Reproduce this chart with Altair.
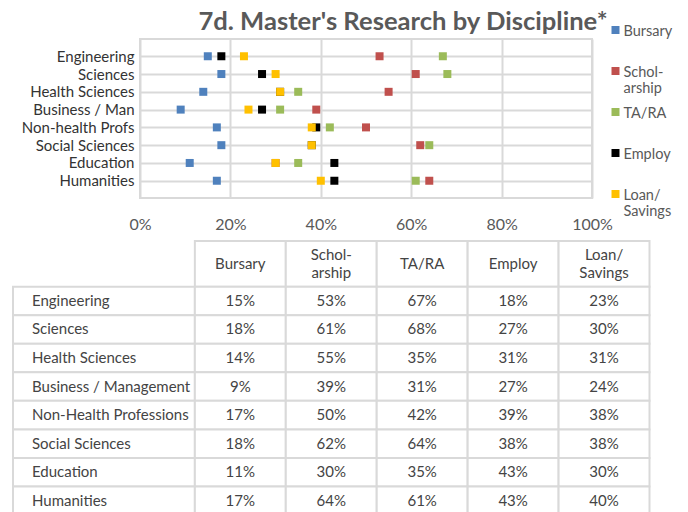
import altair as alt
import pandas as pd

# ---------------- data ----------------
disciplines = ["Engineering", "Sciences", "Health Sciences", "Business / Management",
               "Non-Health Professions", "Social Sciences", "Education", "Humanities"]
chart_labels = ["Engineering", "Sciences", "Health Sciences", "Business / Man",
                "Non-health Profs", "Social Sciences", "Education", "Humanities"]
series = ["Bursary", "Scholarship", "TA/RA", "Employ", "Loan/Savings"]
series_header = ["Bursary", "Schol-\narship", "TA/RA", "Employ", "Loan/\nSavings"]
colors = ["#4f81bd", "#c0504d", "#9bbb59", "#000000", "#ffc000"]

bursary = [15, 18, 14, 9, 17, 18, 11, 17]
scholarship = [53, 61, 55, 39, 50, 62, 30, 64]
ta_ra = [67, 68, 35, 31, 42, 64, 35, 61]
employ = [18, 27, 31, 27, 39, 38, 43, 43]
loan_savings = [23, 30, 31, 24, 38, 38, 30, 40]
x_ticks = [0, 20, 40, 60, 80, 100]

title_text = "7d. Master's Research by Discipline*"

values_by_series = [bursary, scholarship, ta_ra, employ, loan_savings]

# ---------------- scatter part ----------------
rows = []
k = 0
for s, vals in zip(series, values_by_series):
    for lab, v in zip(chart_labels, vals):
        rows.append({"series": s, "discipline": lab, "value": v / 100, "ord": k})
        k += 1
df = pd.DataFrame(rows)

FONT = "Lato"
GRID = "#d9d9d9"

expr_parts = []
for s, h in zip(series, series_header):
    if "\n" in h:
        parts = ",".join("'" + p + "'" for p in h.split("\n"))
        expr_parts.append(f"datum.label == '{s}' ? [{parts}] : ")
label_expr = "".join(expr_parts) + "datum.label"

# legend square drawn inside a larger symbol box so that it lines up with
# the first line of each label
legend_square = "M-0.091,0.136H0.636V0.864H-0.091Z"

scatter = alt.Chart(df).mark_square(size=64, opacity=1, strokeWidth=0).encode(
    x=alt.X("value:Q",
            scale=alt.Scale(domain=[0, 1], nice=False),
            axis=alt.Axis(values=[t / 100 for t in x_ticks], format=".0%", grid=True,
                          gridColor=GRID, gridWidth=2, domain=False, ticks=False,
                          labelFont=FONT, labelFontSize=16, labelColor="#595959",
                          labelPadding=18, labelFlush=False, title=None)),
    y=alt.Y("discipline:N", sort=chart_labels,
            scale=alt.Scale(type="point", padding=0.97),
            axis=alt.Axis(grid=True, gridColor=GRID, gridWidth=2, domain=False,
                          ticks=False, labelFont=FONT, labelFontSize=15,
                          labelColor="#333333", labelPadding=6, title=None)),
    color=alt.Color("series:N", sort=series,
                    scale=alt.Scale(domain=series, range=colors),
                    legend=alt.Legend(orient="none", legendX=461.5, legendY=-25.5,
                                      title=None, symbolType=legend_square,
                                      symbolSize=484, symbolStrokeWidth=0,
                                      labelFont=FONT, labelFontSize=14.5,
                                      labelColor="#595959", labelOffset=0,
                                      labelExpr=label_expr, gridAlign="all",
                                      rowPadding=0, labelBaseline="top",
                                      padding=0)),
    order=alt.Order("ord:Q"),
).properties(
    width=452, height=159,
    view=alt.ViewBackground(stroke=GRID, strokeWidth=2),
    title=alt.TitleParams(title_text, font=FONT, fontSize=25.6, fontWeight="bold",
                          color="#595959", anchor="middle", dx=37, offset=3),
)

# ---------------- table part ----------------
HDR = 1.6            # header height, in row units
LINE = 18 / 28.5     # header line spacing, in row units
n_rows = len(disciplines)
cells = []
for j, h in enumerate(series_header):
    n_lines = h.count("\n") + 1
    cells.append({"x0": 2 + j, "x1": 3 + j, "y0": 0, "y1": HDR,
                  "xc": 2.5 + j, "yc": HDR / 2 - (n_lines - 1) * LINE / 2,
                  "text": h, "kind": "center"})
for i, d in enumerate(disciplines):
    y0 = HDR + i
    cells.append({"x0": 0, "x1": 2, "y0": y0, "y1": y0 + 1,
                  "xc": 0, "yc": y0 + 0.5, "text": d, "kind": "left"})
    for j, vals in enumerate(values_by_series):
        cells.append({"x0": 2 + j, "x1": 3 + j, "y0": y0, "y1": y0 + 1,
                      "xc": 2.5 + j, "yc": y0 + 0.5, "text": f"{vals[i]}%",
                      "kind": "center"})
cdf = pd.DataFrame(cells)

xs = alt.Scale(domain=[0, 7], range=[-127, 509.5], nice=False, zero=False)
ys = alt.Scale(domain=[0, HDR + n_rows], reverse=True, nice=False, zero=False)

base = alt.Chart(cdf)
rects = base.mark_rect(fill="white", stroke=GRID, strokeWidth=2).encode(
    x=alt.X("x0:Q", scale=xs, axis=None), x2="x1:Q",
    y=alt.Y("y0:Q", scale=ys, axis=None), y2="y1:Q",
)
center_text = base.transform_filter(alt.datum.kind == "center").mark_text(
    font=FONT, fontSize=15, color="#444444", lineBreak="\n", lineHeight=18,
    baseline="middle", align="center",
).encode(x=alt.X("xc:Q", scale=xs, axis=None), y=alt.Y("yc:Q", scale=ys, axis=None),
         text="text:N")
left_text = base.transform_filter(alt.datum.kind == "left").mark_text(
    font=FONT, fontSize=15, color="#444444", baseline="middle", align="left", dx=19,
).encode(x=alt.X("xc:Q", scale=xs, axis=None), y=alt.Y("yc:Q", scale=ys, axis=None),
         text="text:N")

table = alt.layer(rects, center_text, left_text).properties(
    width=510, height=274,
    view=alt.ViewBackground(stroke="transparent"),
)

chart = alt.vconcat(scatter, table, spacing=6).configure(
    padding={"left": 3, "top": 1, "right": 0, "bottom": 0},
    background="white",
).configure_view(stroke="transparent")

chart.save("out.html", embed_options={"renderer": "svg", "actions": False})
